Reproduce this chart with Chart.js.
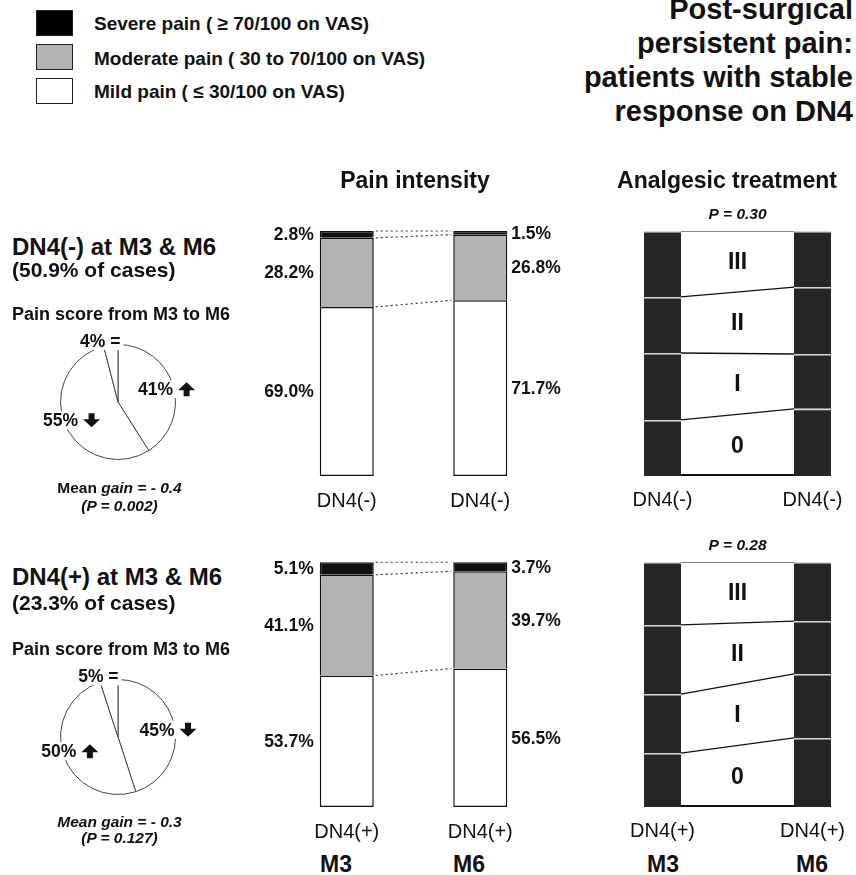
<!DOCTYPE html>
<html>
<head>
<meta charset="utf-8">
<script src="https://cdn.jsdelivr.net/npm/chart.js@4.4.0/dist/chart.umd.min.js"></script>
<style>
  body { margin: 0; width: 856px; height: 875px; overflow: hidden; position: relative; background: #fff;
         font-family: "Liberation Sans", Arial, sans-serif; color: #111; }
  canvas { position: absolute; }
  .t { position: absolute; white-space: nowrap; line-height: 1; font-weight: bold; }
  .sw { position: absolute; left: 36px; width: 37px; box-sizing: border-box; border: 1.5px solid #222; }
</style>
</head>
<body>
<!-- legend swatches -->
<div class="sw" style="top:10px;height:26px;background:#000"></div>
<div class="sw" style="top:44px;height:26px;background:#b3b3b3"></div>
<div class="sw" style="top:78px;height:26px;background:#fff"></div>

<canvas id="pieNeg" width="240" height="200" style="left:0;top:302px"></canvas>
<canvas id="painNeg" width="320" height="325" style="left:250px;top:191px"></canvas>
<canvas id="treatNeg" width="256" height="325" style="left:600px;top:191px"></canvas>

<canvas id="piePos" width="240" height="200" style="left:0;top:637px"></canvas>
<canvas id="painPos" width="320" height="325" style="left:250px;top:522px"></canvas>
<canvas id="treatPos" width="256" height="325" style="left:600px;top:522px"></canvas>

<script>
// ---- data ----
const groupNeg = "DN4(-)";
const groupPos = "DN4(+)";

// pain intensity (% of patients), M3 then M6
const severeNeg = [2.8, 1.5];
const moderateNeg = [28.2, 26.8];
const mildNeg = [69.0, 71.7];
const severePos = [5.1, 3.7];
const moderatePos = [41.1, 39.7];
const mildPos = [53.7, 56.5];

// pain score change from M3 to M6 (pie, clockwise from top)
const pieNegVals = [41, 55, 4];
const pieNegDirs = ["up", "down", "same"];
const piePosVals = [45, 50, 5];
const piePosDirs = ["down", "up", "same"];

// analgesic treatment level shares, bottom to top: 0, I, II, III
const treatLevels = ["0", "I", "II", "III"];
const treatNegM3 = [22.9, 27.3, 22.9, 26.9];
const treatNegM6 = [27.4, 22.4, 27.3, 22.9];
const treatPosM3 = [22.0, 24.1, 28.2, 25.7];
const treatPosM6 = [28.2, 26.1, 21.6, 24.1];
const treatNegP = "P = 0.30";
const treatPosP = "P = 0.28";

const FONT = "'Liberation Sans', Arial, sans-serif";
Chart.defaults.font.family = FONT;
Chart.defaults.animation = false;
Chart.defaults.responsive = false;
Chart.defaults.events = [];
Chart.defaults.plugins.legend.display = false;
Chart.defaults.plugins.tooltip.enabled = false;

//Arrow glyph for pie labels
function drawArrow(ctx, cx, cy, dir) {
  const s = dir === "up" ? 1 : -1;
  ctx.beginPath();
  ctx.moveTo(cx, cy - 7 * s);
  ctx.lineTo(cx + 8.5, cy + 1 * s);
  ctx.lineTo(cx + 3, cy + 1 * s);
  ctx.lineTo(cx + 3, cy + 7 * s);
  ctx.lineTo(cx - 3, cy + 7 * s);
  ctx.lineTo(cx - 3, cy + 1 * s);
  ctx.lineTo(cx - 8.5, cy + 1 * s);
  ctx.closePath();
  ctx.fill();
}

const pieExtras = {
  id: "pieExtras",
  afterDatasetsDraw(chart, args, opts) {
    const ctx = chart.ctx;
    const arcs = chart.getDatasetMeta(0).data;
    const vals = chart.data.datasets[0].data;
    ctx.save();
    ctx.font = "bold 17.5px " + FONT;
    ctx.textBaseline = "middle";
    ctx.textAlign = "left";
    arcs.forEach((a, i) => {
      const mid = (a.startAngle + a.endAngle) / 2;
      const r = a.outerRadius;
      const dir = opts.dirs[i];
      const txt = vals[i] + "%" + (dir === "same" ? " =" : "");
      const tw = ctx.measureText(txt).width;
      const w = dir === "same" ? tw : tw + 22;
      let cx, cy;
      if (vals[i] < 10) {
        cx = a.x + Math.cos(mid) * (r + 4) - 10;
        cy = a.y + Math.sin(mid) * (r + 4);
      } else {
        cx = a.x + Math.cos(mid) * r * 0.88;
        cy = a.y + Math.sin(mid) * r * 0.8;
      }
      const x0 = cx - w / 2;
      ctx.fillStyle = "#fff";
      ctx.fillRect(x0 - 3, cy - 9, w + 6, 18);
      ctx.fillStyle = "#111";
      ctx.fillText(txt, x0, cy + 1);
      if (dir !== "same") drawArrow(ctx, x0 + tw + 13.5, cy, dir);
    });
    ctx.restore();
  }
};

function pieChart(id, vals, dirs) {
  return new Chart(document.getElementById(id), {
    type: "pie",
    data: {
      labels: dirs,
      datasets: [{
        data: vals,
        backgroundColor: "#fff",
        borderColor: "#444",
        borderWidth: 1,
      }],
    },
    options: {
      layout: { padding: { left: 60, right: 64, top: 42, bottom: 42 } },
      plugins: { pieExtras: { dirs: dirs } },
    },
    plugins: [pieExtras],
  });
}

const painExtras = {
  id: "painExtras",
  afterDatasetsDraw(chart) {
    const ctx = chart.ctx;
    const y = chart.scales.y;
    const sets = chart.data.datasets;
    const bars = chart.getDatasetMeta(0).data;
    const half = bars[0].width / 2;
    ctx.save();
    //Dotted connectors between the two bars
    ctx.setLineDash([2, 3]);
    ctx.strokeStyle = "#333";
    ctx.lineWidth = 1.2;
    let c0 = 0, c1 = 0;
    sets.forEach((ds) => {
      c0 += ds.data[0];
      c1 += ds.data[1];
      ctx.beginPath();
      ctx.moveTo(bars[0].x + half + 2, y.getPixelForValue(c0));
      ctx.lineTo(bars[1].x - half - 2, y.getPixelForValue(c1));
      ctx.stroke();
    });
    ctx.setLineDash([]);
    //Percent labels beside each segment
    ctx.font = "bold 17.5px " + FONT;
    ctx.fillStyle = "#111";
    ctx.textBaseline = "middle";
    [0, 1].forEach((j) => {
      let cum = 0;
      sets.forEach((ds) => {
        const v = ds.data[j];
        const yc = (y.getPixelForValue(cum) + y.getPixelForValue(cum + v)) / 2;
        cum += v;
        ctx.textAlign = j === 0 ? "right" : "left";
        const x = j === 0 ? bars[0].x - half - 6 : bars[1].x + half + 4;
        ctx.fillText(v.toFixed(1) + "%", x, yc + 1);
      });
    });
    //Category labels
    ctx.font = "20px " + FONT;
    ctx.textAlign = "center";
    ctx.textBaseline = "alphabetic";
    bars.forEach((b, j) => ctx.fillText(chart.data.labels[j], b.x, chart.chartArea.bottom + 31));
    ctx.restore();
  }
};

function painChart(id, group, severe, moderate, mild) {
  const edge = "#111";
  return new Chart(document.getElementById(id), {
    type: "bar",
    data: {
      labels: [group, group],
      datasets: [
        {
          label: "Mild",
          data: mild,
          backgroundColor: "#fff",
          borderColor: edge,
          borderWidth: { top: 1.5, bottom: 1.5, left: 1.5, right: 1.5 },
          borderSkipped: false,
        },
        {
          label: "Moderate",
          data: moderate,
          backgroundColor: "#b3b3b3",
          borderColor: edge,
          borderWidth: { top: 1.5, bottom: 0, left: 1.5, right: 1.5 },
          borderSkipped: false,
        },
        {
          label: "Severe",
          data: severe,
          backgroundColor: "#111",
          borderColor: edge,
          borderWidth: { top: 1.5, bottom: 0, left: 1.5, right: 1.5 },
          borderSkipped: false,
        },
      ],
    },
    options: {
      layout: { padding: { left: 30, right: 23, top: 40, bottom: 40 } },
      datasets: { bar: { categoryPercentage: 1, barPercentage: 0.4045 } },
      scales: {
        x: { display: false, stacked: true },
        y: { display: false, stacked: true, min: 0, max: 100 },
      },
    },
    plugins: [painExtras],
  });
}

const treatExtras = {
  id: "treatExtras",
  afterDatasetsDraw(chart, args, opts) {
    const ctx = chart.ctx;
    const y = chart.scales.y;
    const sets = chart.data.datasets;
    const bars = chart.getDatasetMeta(0).data;
    const bl = bars[0], br = bars[2];
    const xl = bl.x + bl.width / 2, xr = br.x - br.width / 2;
    const xm = (xl + xr) / 2;
    ctx.save();
    //Bottom edge of the middle band
    ctx.strokeStyle = "#111";
    ctx.lineWidth = 2;
    ctx.beginPath();
    ctx.moveTo(xl, y.getPixelForValue(0) - 1);
    ctx.lineTo(xr, y.getPixelForValue(0) - 1);
    ctx.stroke();
    let cl = 0, cr = 0;
    ctx.font = "bold 23px " + FONT;
    ctx.textAlign = "center";
    ctx.textBaseline = "middle";
    ctx.fillStyle = "#111";
    sets.forEach((ds, k) => {
      const vl = ds.data[0], vr = ds.data[2];
      const midL = (y.getPixelForValue(cl) + y.getPixelForValue(cl + vl)) / 2;
      const midR = (y.getPixelForValue(cr) + y.getPixelForValue(cr + vr)) / 2;
      cl += vl;
      cr += vr;
      ctx.fillText(ds.label, xm, (midL + midR) / 2 + 1);
      //Slanted line joining the upper limits of this level
      const last = k === sets.length - 1;
      ctx.strokeStyle = last ? "#888" : "#111";
      ctx.lineWidth = last ? 1 : 1.3;
      ctx.beginPath();
      ctx.moveTo(xl, y.getPixelForValue(cl) + (last ? 0.5 : 0));
      ctx.lineTo(xr, y.getPixelForValue(cr) + (last ? 0.5 : 0));
      ctx.stroke();
    });
    //P value above
    ctx.font = "italic bold 15.5px " + FONT;
    ctx.textBaseline = "alphabetic";
    ctx.fillText(opts.p, xm, chart.chartArea.top - 12);
    //Category labels
    ctx.font = "20px " + FONT;
    [bl, br].forEach((b, j) => ctx.fillText(chart.data.labels[j * 2], b.x, chart.chartArea.bottom + 30));
    ctx.restore();
  }
};

function treatChart(id, group, m3, m6, p) {
  return new Chart(document.getElementById(id), {
    type: "bar",
    data: {
      labels: [group, "", group],
      datasets: treatLevels.map((lvl, k) => ({
        label: lvl,
        data: [m3[k], null, m6[k]],
        backgroundColor: "#262626",
        borderColor: "#d6d6d6",
        borderWidth: { top: 1.5, bottom: 0, left: 0, right: 0 },
        borderSkipped: false,
      })),
    },
    options: {
      layout: { padding: { left: 25, right: 6, top: 40, bottom: 40 } },
      datasets: { bar: { categoryPercentage: 1, barPercentage: 0.4933 } },
      scales: {
        x: { display: false, stacked: true },
        y: { display: false, stacked: true, min: 0, max: 100 },
      },
      plugins: { treatExtras: { p: p } },
    },
    plugins: [treatExtras],
  });
}

pieChart("pieNeg", pieNegVals, pieNegDirs);
pieChart("piePos", piePosVals, piePosDirs);
painChart("painNeg", groupNeg, severeNeg, moderateNeg, mildNeg);
painChart("painPos", groupPos, severePos, moderatePos, mildPos);
treatChart("treatNeg", groupNeg, treatNegM3, treatNegM6, treatNegP);
treatChart("treatPos", groupPos, treatPosM3, treatPosM6, treatPosP);

//Text placed by baseline
function put(html, x, base, size, align, extra) {
  const d = document.createElement("div");
  d.className = "t";
  d.innerHTML = html;
  d.style.fontSize = size + "px";
  d.style.top = (base - 0.8465 * size) + "px";
  if (align === "center") {
    d.style.left = (x - 200) + "px";
    d.style.width = "400px";
    d.style.textAlign = "center";
  } else if (align === "right") {
    d.style.right = (856 - x) + "px";
  } else {
    d.style.left = x + "px";
  }
  if (extra) d.style.cssText += extra;
  document.body.appendChild(d);
}

put("Severe pain ( &ge; 70/100 on VAS)", 94, 30.5, 19);
put("Moderate pain ( 30 to 70/100 on VAS)", 94, 65, 19);
put("Mild pain ( &le; 30/100 on VAS)", 94, 98, 19);

put("Post-surgical", 853, 20, 29, "right");
put("persistent pain:", 853, 54, 29, "right");
put("patients with stable", 853, 88, 29, "right");
put("response on DN4", 853, 122, 29, "right");

put("Pain intensity", 415, 188, 23, "center");
put("Analgesic treatment", 727, 188, 23, "center");

put("DN4(-) at M3 &amp; M6", 12, 255, 24);
put("(50.9% of cases)", 12, 277, 21);
put("Pain score from M3 to M6", 12, 320, 18);
put("<span style='font-style:normal'>Mean</span> gain = - 0.4", 119.5, 493, 15.5, "center", "font-style:italic;");
put("(P = 0.002)", 119.5, 511, 15.5, "center", "font-style:italic;");

put("DN4(+) at M3 &amp; M6", 12, 585, 24);
put("(23.3% of cases)", 12, 610, 21);
put("Pain score from M3 to M6", 12, 655, 18);
put("Mean gain = - 0.3", 119.5, 827, 15.5, "center", "font-style:italic;");
put("(P = 0.127)", 119.5, 843, 15.5, "center", "font-style:italic;");

put("M3", 336, 872, 23, "center");
put("M6", 469, 872, 23, "center");
put("M3", 663, 872, 23, "center");
put("M6", 812, 872, 23, "center");
</script>
</body>
</html>
